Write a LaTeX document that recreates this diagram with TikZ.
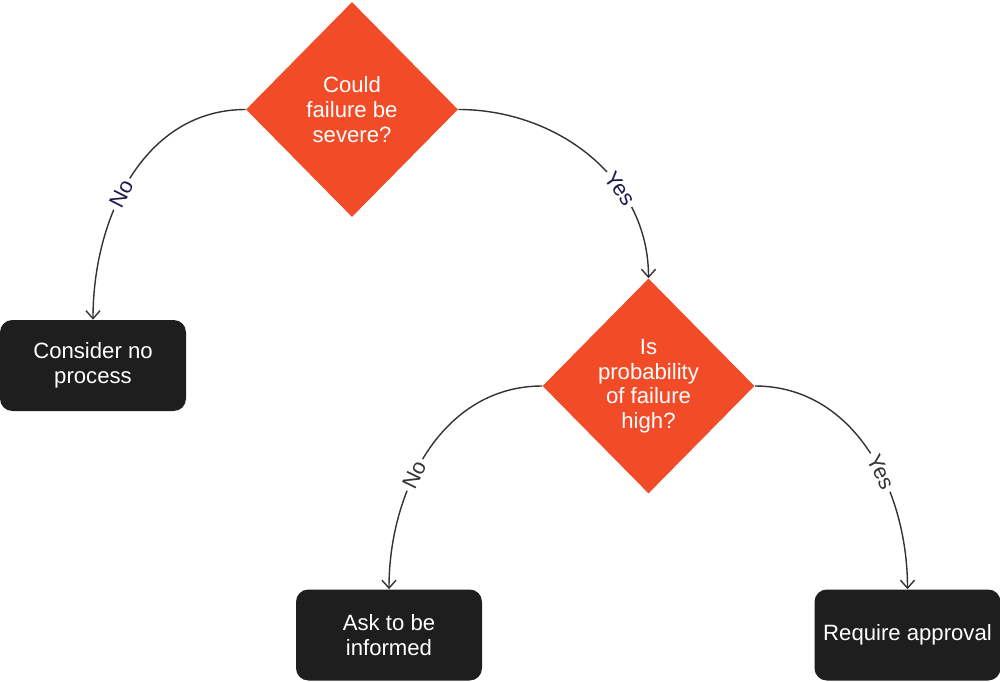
\documentclass[tikz,border=0pt]{standalone}
\usepackage{fontspec}
\setmainfont{Liberation Sans}
\usetikzlibrary{shapes.geometric,arrows.meta}
\definecolor{dorange}{HTML}{F14B28}
\definecolor{dbox}{HTML}{1E1E1E}
\definecolor{dline}{HTML}{333333}
\definecolor{dnavy}{HTML}{1A1A4E}
\tikzset{
  decision/.style={diamond,fill=dorange,text=white,minimum width=212*0.02cm,minimum height=215*0.02cm,inner sep=0pt,align=center,font=\fontsize{12.6}{14}\selectfont,aspect=1},
  actbox/.style={rectangle,rounded corners=7pt,fill=dbox,text=white,minimum width=186*0.02cm,minimum height=91*0.02cm,align=center,font=\fontsize{12.6}{14}\selectfont},
  conn/.style={draw=dline,line width=0.8pt,-{Straight Barb[length=4.5pt,width=8pt]}},
  lbl/.style={sloped,fill=white,inner sep=2pt,font=\fontsize{12.4}{14}\selectfont}
}
\begin{document}
\begin{tikzpicture}[x=0.02cm,y=-0.02cm]
\useasboundingbox (0,0) rectangle (1000,682);
\node[decision] (d1) at (352,109.5) {Could\\failure be\\severe?};
\node[decision] (d2) at (648.5,386) {Is\\probability\\of failure\\high?};
\node[actbox] (b1) at (93,365.5) {Consider no\\process};
\node[actbox] (b2) at (389,635) {Ask to be\\informed};
\node[actbox] (b3) at (907.5,635) {Require approval};
\draw[conn] (d1.west) to[out=180,in=90] node[lbl,text=dnavy,pos=0.57] {No} (b1.north);
\draw[conn] (d1.east) to[out=0,in=90] node[lbl,text=dnavy,pos=0.66] {Yes} (d2.north);
\draw[conn] (d2.west) to[out=180,in=90] node[lbl,text=dline,pos=0.6] {No} (b2.north);
\draw[conn] (d2.east) to[out=0,in=90] node[lbl,text=dline,pos=0.59] {Yes} (b3.north);
\end{tikzpicture}
\end{document}
